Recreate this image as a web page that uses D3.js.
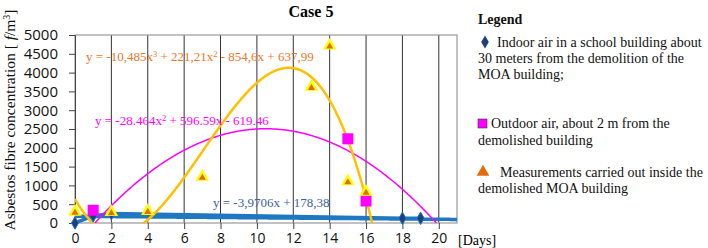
<!DOCTYPE html>
<html>
<head>
<meta charset="utf-8">
<script src="https://cdn.jsdelivr.net/npm/d3@7"></script>
<style>
  body { margin: 0; background: #fff; }
  svg { display: block; }
</style>
</head>
<body>
<svg id="chart" width="708" height="248"></svg>
<script>
let indoor_days = [0, 1, 2, 18, 19]
let indoor_vals = [0, 190, 250, 125, 125]
let outdoor_days = [1, 15, 16]
let outdoor_vals = [340, 2240, 585]
let inside_days = [0, 2, 4, 7, 13, 14, 15, 16]
let inside_vals = [300, 290, 320, 1230, 3620, 4720, 1110, 830]

let y_ticks = [0, 500, 1000, 1500, 2000, 2500, 3000, 3500, 4000, 4500, 5000]
let x_ticks = [0, 2, 4, 6, 8, 10, 12, 14, 16, 18, 20]

// trend lines as given on the chart
let cubic = x => -10.485 * x ** 3 + 221.21 * x ** 2 - 854.6 * x + 637.99
let quad = x => -28.464 * x ** 2 + 596.59 * x - 619.46
let linear = x => -3.9706 * x + 178.38

let svg = d3.select("#chart")
let x = d3.scaleLinear().domain([0, 21]).range([75, 457])
let y = d3.scaleLinear().domain([0, 5000]).range([223, 35])

svg.append("defs").append("clipPath").attr("id", "plot")
  .append("rect")
  .attr("x", x(0)).attr("y", y(5000))
  .attr("width", x(21) - x(0)).attr("height", y(0) - y(5000))

// vertical grid lines
svg.append("g").selectAll("line")
  .data(x_ticks.filter(d => d > 0)).enter()
  .append("line")
  .attr("x1", d => x(d)).attr("x2", d => x(d))
  .attr("y1", y(5000)).attr("y2", y(0))
  .attr("stroke", "#333").attr("stroke-width", 1)

// plot frame
svg.append("rect")
  .attr("x", x(0)).attr("y", y(5000))
  .attr("width", x(21) - x(0)).attr("height", y(0) - y(5000))
  .attr("fill", "none").attr("stroke", "#9a9a9a").attr("stroke-width", 1.2)

// axes
let yAxis = svg.append("g").attr("transform", `translate(${x(0)},0)`)
  .call(d3.axisLeft(y).tickValues(y_ticks).tickFormat(d3.format("d")).tickSize(6).tickPadding(11))
let xAxis = svg.append("g").attr("transform", `translate(0,${y(0)})`)
  .call(d3.axisBottom(x).tickValues(x_ticks).tickFormat(d3.format("d")).tickSize(6).tickPadding(4))
for (let ax of [yAxis, xAxis]) {
  ax.select(".domain").attr("stroke", "#444")
  ax.selectAll("line").attr("stroke", "#444")
  ax.selectAll("text").attr("font-family", "Open Sans, sans-serif")
    .attr("font-size", 15).attr("fill", "#111")
}
xAxis.select(".domain").remove()
xAxis.selectAll("text").attr("font-size", 14)

let curve = (f, a, b) => d3.range(a, b + 0.001, 0.05).map(t => [t, f(t)])
let line = d3.line().x(d => x(d[0])).y(d => y(d[1]))
let plot = svg.append("g").attr("clip-path", "url(#plot)")

// blue series line and linear trend
plot.append("path")
  .attr("d", line(indoor_days.map((d, i) => [d, indoor_vals[i]])))
  .attr("fill", "none").attr("stroke", "#1f78c1").attr("stroke-width", 3.5)
plot.append("path")
  .attr("d", line(curve(linear, 0, 21)))
  .attr("fill", "none").attr("stroke", "#1f78c1").attr("stroke-width", 3.5)

// magenta quadratic trend
plot.append("path")
  .attr("d", line(curve(quad, 0, 21)))
  .attr("fill", "none").attr("stroke", "#ff00ff").attr("stroke-width", 1.5)

// orange cubic trend
plot.append("path")
  .attr("d", line(curve(cubic, 0, 17)))
  .attr("fill", "none").attr("stroke", "#ffc000").attr("stroke-width", 2.5)

// markers
let diamond = d3.symbol().type(d3.symbolDiamond).size(45)
let tri = d3.symbol().type(d3.symbolTriangle).size(80)
let tri_in = d3.symbol().type(d3.symbolTriangle).size(22)

svg.append("g").selectAll("path")
  .data(indoor_days.map((d, i) => [d, indoor_vals[i]])).enter()
  .append("path")
  .attr("d", diamond)
  .attr("transform", d => `translate(${x(d[0])},${y(d[1])})`)
  .attr("fill", "#1f3f7a").attr("stroke", "#1f78c1").attr("stroke-width", 1)

svg.append("g").selectAll("rect")
  .data(outdoor_days.map((d, i) => [d, outdoor_vals[i]])).enter()
  .append("rect")
  .attr("x", d => x(d[0]) - 5.5).attr("y", d => y(d[1]) - 5.5)
  .attr("width", 11).attr("height", 11)
  .attr("fill", "#ff00ff")

let tg = svg.append("g").selectAll("g")
  .data(inside_days.map((d, i) => [d, inside_vals[i]])).enter()
  .append("g")
  .attr("transform", d => `translate(${x(d[0])},${y(d[1])})`)
tg.append("path").attr("d", tri).attr("fill", "#ffff00")
tg.append("path").attr("d", tri_in).attr("fill", "#e36c09").attr("transform", "translate(0,1)")

// equation labels, superscripts written as [text]
let serif = "Liberation Serif, Times New Roman, serif"
let eq = (tx, ty, color, parts) => {
  let t = svg.append("text").attr("x", tx).attr("y", ty)
    .attr("font-family", serif).attr("font-size", 13).attr("fill", color)
  let raised = false
  parts.forEach(p => {
    let is_sup = Array.isArray(p)
    let dy = is_sup && !raised ? -4 : (!is_sup && raised ? 4 : 0)
    t.append("tspan").attr("dy", dy).attr("font-size", is_sup ? 8.5 : 13)
      .text(is_sup ? p[0] : p)
    raised = is_sup
  })
}
eq(86, 61, "#e8782a", ["y = -10,485x", ["3"], " + 221,21x", ["2"], " - 854,6x + 637,99"])
eq(95, 125, "#ff00ff", ["y = -28.464x", ["2"], " + 596.59x - 619.46"])
eq(213, 207, "#3d62a0", ["y = -3,9706x + 178,38"])

// title and axis labels
svg.append("text").attr("x", 311).attr("y", 17).attr("text-anchor", "middle")
  .attr("font-family", serif).attr("font-weight", "bold").attr("font-size", 16)
  .text("Case 5")

let yl = svg.append("text")
  .attr("transform", "translate(15,120) rotate(-90)")
  .attr("text-anchor", "middle")
  .attr("font-family", serif).attr("font-size", 15.5).attr("fill", "#111")
yl.append("tspan").text("Asbestos fibre concentration [ ")
yl.append("tspan").attr("font-style", "italic").text("f")
yl.append("tspan").text("/m")
yl.append("tspan").attr("dy", -5).attr("font-size", 10).text("3")
yl.append("tspan").attr("dy", 5).text("]")

svg.append("text").attr("x", 458).attr("y", 245)
  .attr("font-family", serif).attr("font-size", 14).text("[Days]")

// legend
let lg = svg.append("g").attr("font-family", serif).attr("font-size", 14).attr("fill", "#111")
lg.append("text").attr("x", 478).attr("y", 24).attr("font-weight", "bold").text("Legend")

lg.append("path").attr("d", d3.symbol().type(d3.symbolDiamond).size(50))
  .attr("transform", "translate(485,42)").attr("fill", "#1f3f7a")
let legend_lines = [
  [497, 47, "Indoor air in a school building about"],
  [478, 63, "30 meters from the demolition of the"],
  [478, 79, "MOA building;"],
  [491, 128, "Outdoor air, about 2 m from the"],
  [478, 145, "demolished building"],
  [500, 177, "Measurements carried out inside the"],
  [478, 193, "demolished MOA building"]
]
lg.selectAll("text.item").data(legend_lines).enter()
  .append("text").attr("class", "item")
  .attr("x", d => d[0]).attr("y", d => d[1]).text(d => d[2])

lg.append("rect").attr("x", 478).attr("y", 119).attr("width", 9).attr("height", 9)
  .attr("fill", "#ff00ff").attr("stroke", "#333").attr("stroke-width", 0.6)
lg.append("path").attr("d", d3.symbol().type(d3.symbolTriangle).size(70))
  .attr("transform", "translate(483,172)").attr("fill", "#e36c09")
</script>
</body>
</html>
